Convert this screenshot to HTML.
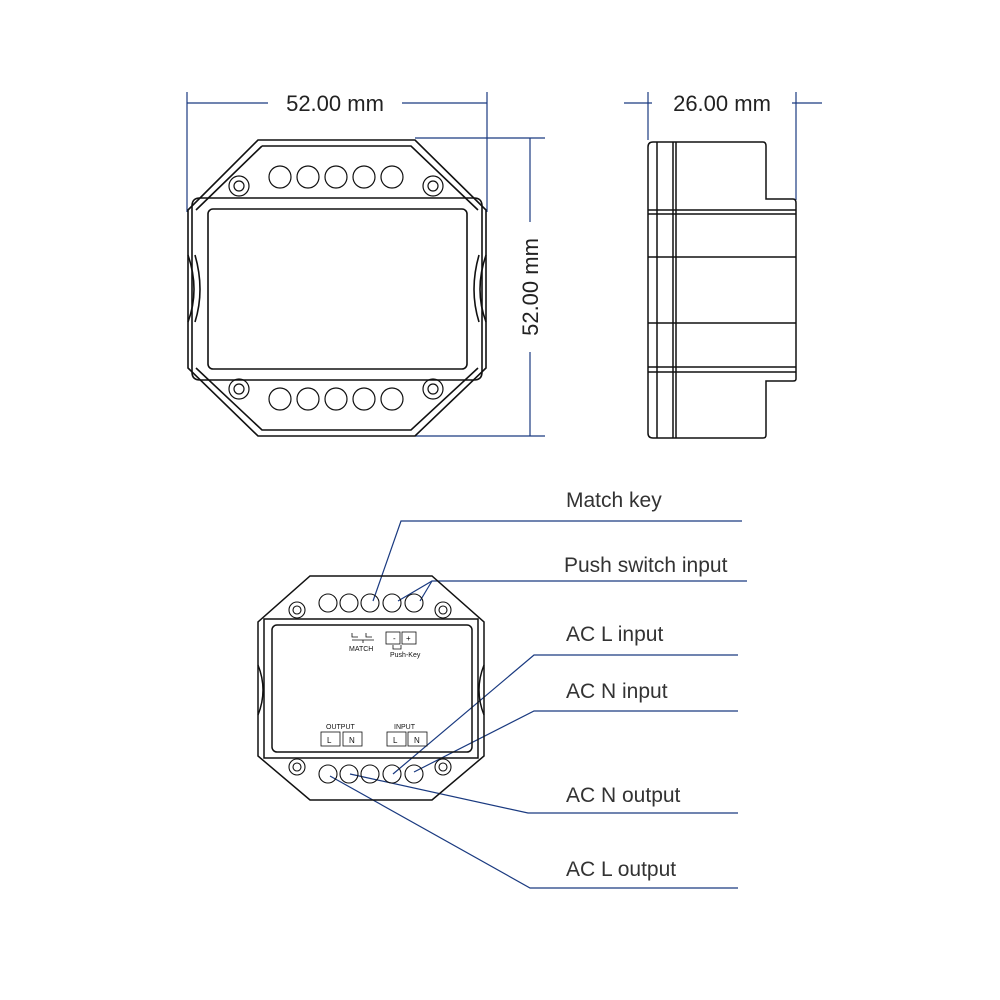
<!DOCTYPE html>
<html><head><meta charset="utf-8"><style>
html,body{margin:0;padding:0;background:#fff;}
svg{display:block;}
text{font-family:"Liberation Sans",sans-serif;}
</style></head><body>
<svg width="1000" height="1000" viewBox="0 0 1000 1000" xmlns="http://www.w3.org/2000/svg">
<g fill="none" stroke="#1a3a80" stroke-width="1.2">
  <!-- top dims -->
  <line x1="187" y1="92" x2="187" y2="212"/>
  <line x1="487" y1="92" x2="487" y2="212"/>
  <line x1="187" y1="103" x2="268" y2="103"/>
  <line x1="402" y1="103" x2="487" y2="103"/>
  <line x1="415" y1="138" x2="545" y2="138"/>
  <line x1="415" y1="436" x2="545" y2="436"/>
  <line x1="530" y1="138" x2="530" y2="222"/>
  <line x1="530" y1="352" x2="530" y2="436"/>
  <line x1="648" y1="92" x2="648" y2="140"/>
  <line x1="796" y1="92" x2="796" y2="200"/>
  <line x1="624" y1="103" x2="652" y2="103"/>
  <line x1="792" y1="103" x2="822" y2="103"/>
  <!-- leaders -->
  <polyline points="742,521 401,521 373,601"/>
  <polyline points="747,581 432,581 398,601"/>
  <line x1="432" y1="581" x2="420" y2="601"/>
  <polyline points="738,655 534,655 393,774"/>
  <polyline points="738,711 534,711 414,772"/>
  <polyline points="738,813 528,813 350,774"/>
  <polyline points="738,888 530,888 330,776"/>
</g>
<g fill="#222" font-size="22">
  <text x="335" y="111" text-anchor="middle">52.00 mm</text>
  <text x="722" y="111" text-anchor="middle">26.00 mm</text>
  <text transform="translate(538,287) rotate(-90)" text-anchor="middle">52.00 mm</text>
</g>
<g fill="#333" font-size="21">
  <text x="566" y="507">Match key</text>
  <text x="564" y="572">Push switch input</text>
  <text x="566" y="641">AC L input</text>
  <text x="566" y="698">AC N input</text>
  <text x="566" y="802">AC N output</text>
  <text x="566" y="876">AC L output</text>
</g>

<!-- front view -->
<g fill="none" stroke="#111" stroke-width="1.6">
  <path d="M258,140 L415,140 L486,210 L486,368 L415,436 L258,436 L188,368 L188,210 Z"/>
  <path d="M262,146 L411,146 L478,210 M478,368 L411,430 L262,430 L196,368 M196,210 L262,146"/>
  <path d="M200,198 L474,198 Q482,198 482,206 L482,372 Q482,380 474,380 L200,380 Q192,380 192,372 L192,206 Q192,198 200,198 Z"/>
  <rect x="208" y="209" width="259" height="160" rx="5"/>
  <path d="M188,255 Q200,290 188,322 M195,255 Q205,290 195,322 M486,255 Q474,290 486,322 M479,255 Q469,290 479,322"/>
  <g stroke-width="1.2">
  <circle cx="280" cy="177" r="11"/><circle cx="308" cy="177" r="11"/><circle cx="336" cy="177" r="11"/><circle cx="364" cy="177" r="11"/><circle cx="392" cy="177" r="11"/>
  <circle cx="280" cy="399" r="11"/><circle cx="308" cy="399" r="11"/><circle cx="336" cy="399" r="11"/><circle cx="364" cy="399" r="11"/><circle cx="392" cy="399" r="11"/>
  <circle cx="239" cy="186" r="10"/><circle cx="239" cy="186" r="5"/>
  <circle cx="433" cy="186" r="10"/><circle cx="433" cy="186" r="5"/>
  <circle cx="239" cy="389" r="10"/><circle cx="239" cy="389" r="5"/>
  <circle cx="433" cy="389" r="10"/><circle cx="433" cy="389" r="5"/>
  </g>
</g>

<!-- side view -->
<g fill="none" stroke="#111" stroke-width="1.5">
  <path d="M653,142 L763,142 Q766,142 766,146 L766,199 L793,199 Q796,199 796,203 L796,379 Q796,381 793,381 L766,381 L766,435 Q766,438 763,438 L653,438 Q648,438 648,433 L648,147 Q648,142 653,142 Z"/>
  <line x1="657" y1="142" x2="657" y2="438"/>
  <line x1="673" y1="142" x2="673" y2="438"/>
  <line x1="676" y1="142" x2="676" y2="438"/>
  <line x1="648" y1="210" x2="796" y2="210"/>
  <line x1="648" y1="214" x2="796" y2="214"/>
  <line x1="648" y1="257" x2="796" y2="257"/>
  <line x1="648" y1="323" x2="796" y2="323"/>
  <line x1="648" y1="367" x2="796" y2="367"/>
  <line x1="648" y1="372" x2="796" y2="372"/>
</g>

<!-- bottom device -->
<g fill="none" stroke="#111" stroke-width="1.5">
  <path d="M310,576 L432,576 L484,622 L484,756 L432,800 L310,800 L258,756 L258,622 Z"/>
  <path d="M264,619 L478,619 L478,758 L264,758 Z"/>
  <rect x="272" y="625" width="200" height="127" rx="5"/>
  <path d="M258,665 Q268,690 258,715 M484,665 Q474,690 484,715"/>
  <g stroke-width="1.1">
  <circle cx="328" cy="603" r="9"/><circle cx="349" cy="603" r="9"/><circle cx="370" cy="603" r="9"/><circle cx="392" cy="603" r="9"/><circle cx="414" cy="603" r="9"/>
  <circle cx="328" cy="774" r="9"/><circle cx="349" cy="774" r="9"/><circle cx="370" cy="774" r="9"/><circle cx="392" cy="774" r="9"/><circle cx="414" cy="774" r="9"/>
  <circle cx="297" cy="610" r="8"/><circle cx="297" cy="610" r="4"/>
  <circle cx="443" cy="610" r="8"/><circle cx="443" cy="610" r="4"/>
  <circle cx="297" cy="767" r="8"/><circle cx="297" cy="767" r="4"/>
  <circle cx="443" cy="767" r="8"/><circle cx="443" cy="767" r="4"/>
  </g>
  <g stroke-width="0.8">
  <rect x="386" y="632" width="14" height="12"/><rect x="402" y="632" width="14" height="12"/>
  <rect x="321" y="732" width="19" height="14"/><rect x="343" y="732" width="19" height="14"/>
  <rect x="387" y="732" width="19" height="14"/><rect x="408" y="732" width="19" height="14"/>
  <path d="M352,633 v4 h6 M366,633 v4 h6 M352,640 h22 M363,640 v3"/>
  <path d="M393,645 v4 h8 v-4"/>
  </g>
</g>
<g fill="#111" font-size="7">
  <text x="349" y="651">MATCH</text>
  <text x="390" y="657">Push-Key</text>
  <text x="326" y="729">OUTPUT</text>
  <text x="394" y="729">INPUT</text>
  <text x="393" y="641" font-size="8">-</text>
  <text x="406" y="641" font-size="8">+</text>
  <text x="327" y="743" font-size="8">L</text>
  <text x="349" y="743" font-size="8">N</text>
  <text x="393" y="743" font-size="8">L</text>
  <text x="414" y="743" font-size="8">N</text>
</g>
</svg>
</body></html>
